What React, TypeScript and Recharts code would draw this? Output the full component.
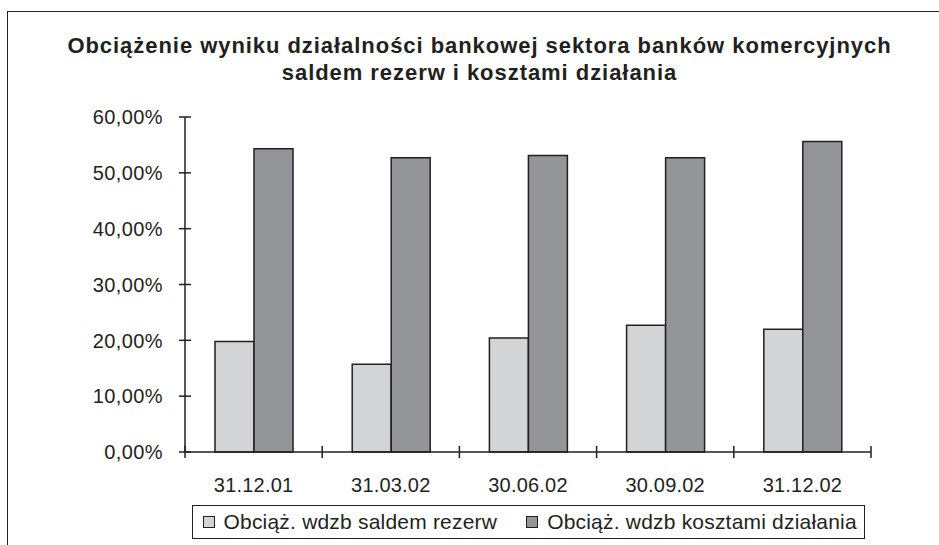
import React from "react";
import { BarChart, Bar, XAxis, YAxis, Legend } from "recharts";

// Reporting dates
const categories = ["31.12.01", "31.03.02", "30.06.02", "30.09.02", "31.12.02"];
// Burden of banking result by net provisions (%)
const provisionsShare = [19.8, 15.7, 20.4, 22.7, 22.0];
// Burden of banking result by operating costs (%)
const costsShare = [54.3, 52.7, 53.1, 52.7, 55.6];
// Y-axis tick values (%)
const yTicks = [0, 10, 20, 30, 40, 50, 60];

const seriesNames = [
  "Obciąż. wdzb saldem rezerw",
  "Obciąż. wdzb kosztami działania",
];
const titleLines = [
  "Obciążenie wyniku działalności bankowej sektora banków komercyjnych",
  "saldem rezerw i kosztami działania",
];

const data = categories.map((c, i) => ({
  date: c,
  provisions: provisionsShare[i],
  costs: costsShare[i],
}));

const INK = "#231f20";
const LIGHT = "#d3d4d6";
const DARK = "#939598";
const FONT = "'Liberation Sans', Arial, sans-serif";

const fmtPct = (v: number) => v.toFixed(2).replace(".", ",") + "%";

const YTick = (props: any) => {
  const { x, y, payload } = props;
  return (
    <g>
      <line x1={x - 6} x2={x + 6} y1={y} y2={y} stroke={INK} strokeWidth={1.5} />
      <text
        x={x - 22}
        y={y}
        dy="0.36em"
        textAnchor="end"
        fill={INK}
        fontSize={20}
        letterSpacing={0.4}
        fontFamily={FONT}
      >
        {fmtPct(payload.value)}
      </text>
    </g>
  );
};

const XTick = (props: any) => {
  const { x, y, payload, index, visibleTicksCount, width } = props;
  const half =
    payload && typeof payload.offset === "number" && payload.offset > 0
      ? payload.offset
      : width / visibleTicksCount / 2;
  const isLast = index === visibleTicksCount - 1;
  return (
    <g>
      <line x1={x - half} x2={x - half} y1={y - 6} y2={y + 6} stroke={INK} strokeWidth={1.5} />
      {isLast && (
        <line x1={x + half} x2={x + half} y1={y - 6} y2={y + 6} stroke={INK} strokeWidth={1.5} />
      )}
      <text
        x={x}
        y={y + 33}
        dy="0.36em"
        textAnchor="middle"
        fill={INK}
        fontSize={20}
        letterSpacing={0.2}
        fontFamily={FONT}
      >
        {payload.value}
      </text>
    </g>
  );
};

const LegendBox = () => (
  <div
    style={{
      boxSizing: "border-box",
      width: 673,
      height: 34,
      border: `1.5px solid ${INK}`,
      background: "#fff",
      display: "flex",
      alignItems: "center",
      paddingLeft: 9.5,
      fontFamily: FONT,
      fontSize: 21,
      letterSpacing: 0.2,
      color: INK,
      whiteSpace: "nowrap",
    }}
  >
    {[LIGHT, DARK].map((fill, i) => (
      <span
        key={i}
        style={{ display: "flex", alignItems: "center", marginRight: i === 0 ? 29 : 0 }}
      >
        <span
          style={{
            display: "inline-block",
            boxSizing: "border-box",
            width: 12,
            height: 12,
            border: `1.2px solid ${INK}`,
            background: fill,
            marginRight: 9,
          }}
        />
        <span>{seriesNames[i]}</span>
      </span>
    ))}
  </div>
);

export default function App() {
  return (
    <div
      style={{
        position: "fixed",
        left: 0,
        top: 0,
        width: 939,
        height: 545,
        overflow: "hidden",
        background: "#fff",
      }}
    >
      <div
        style={{
          position: "absolute",
          left: 7,
          top: 11,
          width: 945,
          height: 600,
          border: `1.6px solid ${INK}`,
          boxSizing: "border-box",
        }}
      />
      <div
        style={{
          position: "absolute",
          left: 7,
          top: 32,
          width: 945,
          textAlign: "center",
          fontFamily: FONT,
          fontWeight: "bold",
          fontSize: 22,
          letterSpacing: 0.95,
          lineHeight: "27px",
          color: INK,
        }}
      >
        <div>{titleLines[0]}</div>
        <div>{titleLines[1]}</div>
      </div>
      <div style={{ position: "absolute", left: 0, top: 0 }}>
        <BarChart
          width={939}
          height={545}
          data={data}
          margin={{ top: 117, right: 68, left: 105, bottom: 63 }}
          barGap={0}
          barSize={39}
        >
          <XAxis
            dataKey="date"
            height={30}
            tickLine={false}
            tickSize={0}
            tickMargin={0}
            axisLine={{ stroke: INK, strokeWidth: 1.5 }}
            tick={<XTick />}
            interval={0}
          />
          <YAxis
            width={80}
            domain={[0, 60]}
            ticks={yTicks}
            tickLine={false}
            tickSize={0}
            tickMargin={0}
            axisLine={{ stroke: INK, strokeWidth: 1.5 }}
            tick={<YTick />}
          />
          <Legend
            layout="horizontal"
            verticalAlign="middle"
            align="center"
            wrapperStyle={{ position: "absolute", left: 192, top: 505, width: 673, height: 34 }}
            content={() => <LegendBox />}
          />
          <Bar
            dataKey="provisions"
            name={seriesNames[0]}
            fill={LIGHT}
            stroke={INK}
            strokeWidth={1.5}
            isAnimationActive={false}
          />
          <Bar
            dataKey="costs"
            name={seriesNames[1]}
            fill={DARK}
            stroke={INK}
            strokeWidth={1.5}
            isAnimationActive={false}
          />
        </BarChart>
      </div>
    </div>
  );
}
